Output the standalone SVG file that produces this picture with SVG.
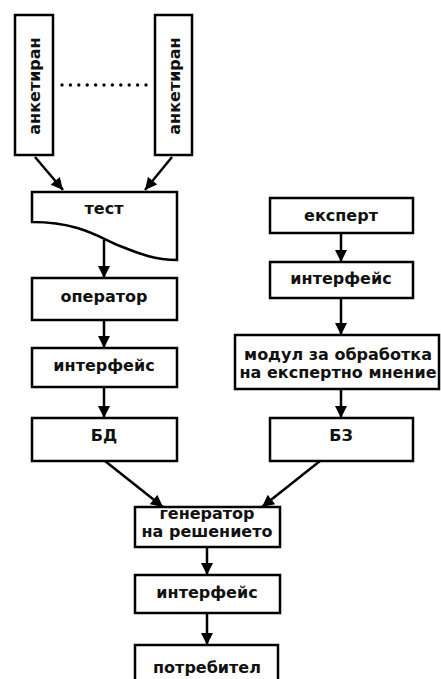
<svg xmlns="http://www.w3.org/2000/svg" width="441" height="679" viewBox="0 0 441 679">
<defs>
<style>
.box{fill:#fff;stroke:#000;stroke-width:2.5}
.t{font-family:"DejaVu Sans","Liberation Sans",Arial,sans-serif;font-weight:bold;font-size:16px;fill:#111;text-anchor:middle}
.c{stroke:#000;stroke-width:2.5;fill:none}
.dot{fill:#000}
</style>
<marker id="ah" viewBox="0 0 10 10" refX="10" refY="5" markerWidth="13" markerHeight="12" markerUnits="userSpaceOnUse" orient="auto">
<path d="M0,0 L10,5 L0,10 z" fill="#000"/>
</marker>
</defs>
<rect width="441" height="679" fill="#fff"/>
<g id="connectors">
<line class="c" x1="35" y1="157" x2="63" y2="190" marker-end="url(#ah)"/>
<line class="c" x1="172" y1="157" x2="145" y2="190" marker-end="url(#ah)"/>
<line class="c" x1="104" y1="240" x2="104" y2="278" marker-end="url(#ah)"/>
<line class="c" x1="104" y1="320" x2="104" y2="348" marker-end="url(#ah)"/>
<line class="c" x1="104" y1="387" x2="104" y2="418" marker-end="url(#ah)"/>
<line class="c" x1="341" y1="233" x2="341" y2="262" marker-end="url(#ah)"/>
<line class="c" x1="341" y1="298" x2="341" y2="335" marker-end="url(#ah)"/>
<line class="c" x1="341" y1="389" x2="341" y2="418" marker-end="url(#ah)"/>
<line class="c" x1="105" y1="461" x2="163" y2="507" marker-end="url(#ah)"/>
<line class="c" x1="320" y1="461" x2="262" y2="507" marker-end="url(#ah)"/>
<line class="c" x1="207" y1="547" x2="207" y2="575" marker-end="url(#ah)"/>
<line class="c" x1="207" y1="613" x2="207" y2="645" marker-end="url(#ah)"/>
</g>
<g id="dots">
<circle class="dot" cx="62" cy="85" r="1.7"/><circle class="dot" cx="70.4" cy="85" r="1.7"/><circle class="dot" cx="78.8" cy="85" r="1.7"/><circle class="dot" cx="87.2" cy="85" r="1.7"/><circle class="dot" cx="95.6" cy="85" r="1.7"/><circle class="dot" cx="104" cy="85" r="1.7"/><circle class="dot" cx="112.4" cy="85" r="1.7"/><circle class="dot" cx="120.8" cy="85" r="1.7"/><circle class="dot" cx="129.2" cy="85" r="1.7"/><circle class="dot" cx="137.6" cy="85" r="1.7"/><circle class="dot" cx="146" cy="85" r="1.7"/>
</g>
<g id="anketiran1">
<rect class="box" x="15" y="15" width="38" height="140"/>
<text class="t" transform="translate(40,86) rotate(-90)">анкетиран</text>
</g>
<g id="anketiran2">
<rect class="box" x="155" y="15" width="37" height="140"/>
<text class="t" transform="translate(179.5,86) rotate(-90)">анкетиран</text>
</g>
<g id="test">
<path class="box" d="M32,192 H177 V260 C155,260 140,254 120,246 C100,238 80,222 32,222 Z"/>
<text class="t" x="104" y="214">тест</text>
</g>
<g id="operator">
<rect class="box" x="32" y="278" width="145" height="42"/>
<text class="t" x="104" y="302">оператор</text>
</g>
<g id="interface1">
<rect class="box" x="32" y="348" width="145" height="39"/>
<text class="t" x="104" y="371">интерфейс</text>
</g>
<g id="bd">
<rect class="box" x="32" y="418" width="145" height="43"/>
<text class="t" x="104" y="441">БД</text>
</g>
<g id="expert">
<rect class="box" x="270" y="198" width="143" height="35"/>
<text class="t" x="341" y="221">експерт</text>
</g>
<g id="interface2">
<rect class="box" x="270" y="262" width="143" height="36"/>
<text class="t" x="341" y="284">интерфейс</text>
</g>
<g id="module">
<rect class="box" x="235" y="335" width="204" height="54"/>
<text class="t" x="338" y="360">модул за обработка</text>
<text class="t" x="338" y="378">на експертно мнение</text>
</g>
<g id="bz">
<rect class="box" x="270" y="418" width="143" height="43"/>
<text class="t" x="341" y="441">БЗ</text>
</g>
<g id="generator">
<rect class="box" x="135" y="507" width="145" height="40"/>
<text class="t" x="207" y="519">генератор</text>
<text class="t" x="207" y="537">на решението</text>
</g>
<g id="interface3">
<rect class="box" x="135" y="575" width="145" height="38"/>
<text class="t" x="207" y="598">интерфейс</text>
</g>
<g id="user">
<rect class="box" x="135" y="645" width="143" height="38"/>
<text class="t" x="207" y="673">потребител</text>
</g>
</svg>
